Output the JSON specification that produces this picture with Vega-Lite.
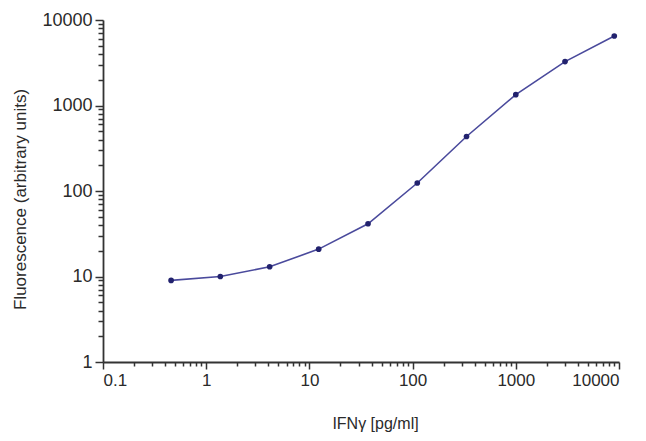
{
  "$schema": "https://vega.github.io/schema/vega-lite/v6.json",
  "width": 516,
  "height": 342,
  "autosize": "none",
  "padding": {"left": 103, "top": 20, "right": 27, "bottom": 79},
  "background": "white",
  "config": {
    "view": {"stroke": null},
    "font": "Liberation Sans",
    "axis": {"domainColor": "#333333", "tickColor": "#333333", "labelColor": "#2a2a2a", "titleColor": "#2a2a2a", "grid": false, "labelFont": "Liberation Sans", "titleFont": "Liberation Sans", "titleFontWeight": "normal"}
  },
  "data": {
    "values": [
      {"conc": 0.457, "fluor": 9.0},
      {"conc": 1.37, "fluor": 10.0},
      {"conc": 4.12, "fluor": 13.0},
      {"conc": 12.3, "fluor": 20.9},
      {"conc": 37, "fluor": 41.4},
      {"conc": 111, "fluor": 124},
      {"conc": 333, "fluor": 434},
      {"conc": 1000, "fluor": 1340},
      {"conc": 3000, "fluor": 3260},
      {"conc": 9000, "fluor": 6500}
    ]
  },
  "resolve": {"axis": {"x": "independent", "y": "independent"}},
  "layer": [
    {
      "mark": {"type": "line", "color": "#4a4a9c", "strokeWidth": 1.6},
      "encoding": {
        "x": {"field": "conc", "type": "quantitative", "scale": {"type": "log", "domain": [0.1, 10000], "nice": false},
          "axis": {"orient": "bottom", "values": [0.1, 1, 10, 100, 1000, 10000], "format": "~g", "tickSize": 7, "tickWidth": 1.5, "domainWidth": 1.8, "labelFontSize": 17, "labelPadding": 3, "title": "IFNγ [pg/ml]", "titleFontSize": 16, "titlePadding": 27, "titleX": 272}},
        "y": {"field": "fluor", "type": "quantitative", "scale": {"type": "log", "domain": [1, 10000], "nice": false},
          "axis": {"orient": "left", "values": [1, 10, 100, 1000, 10000], "format": "~g", "tickSize": 8, "tickWidth": 1.5, "domainWidth": 1.8, "labelFontSize": 18, "labelPadding": 3, "title": "Fluorescence (arbitrary units)", "titleFontSize": 17, "titlePadding": 12, "titleY": 179}}
      }
    },
    {
      "mark": {"type": "point", "filled": true, "color": "#22226e", "opacity": 1, "size": 32},
      "encoding": {
        "x": {"field": "conc", "type": "quantitative",
          "axis": {"orient": "bottom", "values": [0.2,0.3,0.4,0.5,0.6,0.7,0.8,0.9,2,3,4,5,6,7,8,9,20,30,40,50,60,70,80,90,200,300,400,500,600,700,800,900,2000,3000,4000,5000,6000,7000,8000,9000], "domain": false, "labels": false, "tickSize": 4, "tickWidth": 1.5, "title": null}},
        "y": {"field": "fluor", "type": "quantitative",
          "axis": {"orient": "left", "values": [2,3,4,5,6,7,8,9,20,30,40,50,60,70,80,90,200,300,400,500,600,700,800,900,2000,3000,4000,5000,6000,7000,8000,9000], "domain": false, "labels": false, "tickSize": 5, "tickWidth": 1.5, "title": null}}
      }
    }
  ]
}
